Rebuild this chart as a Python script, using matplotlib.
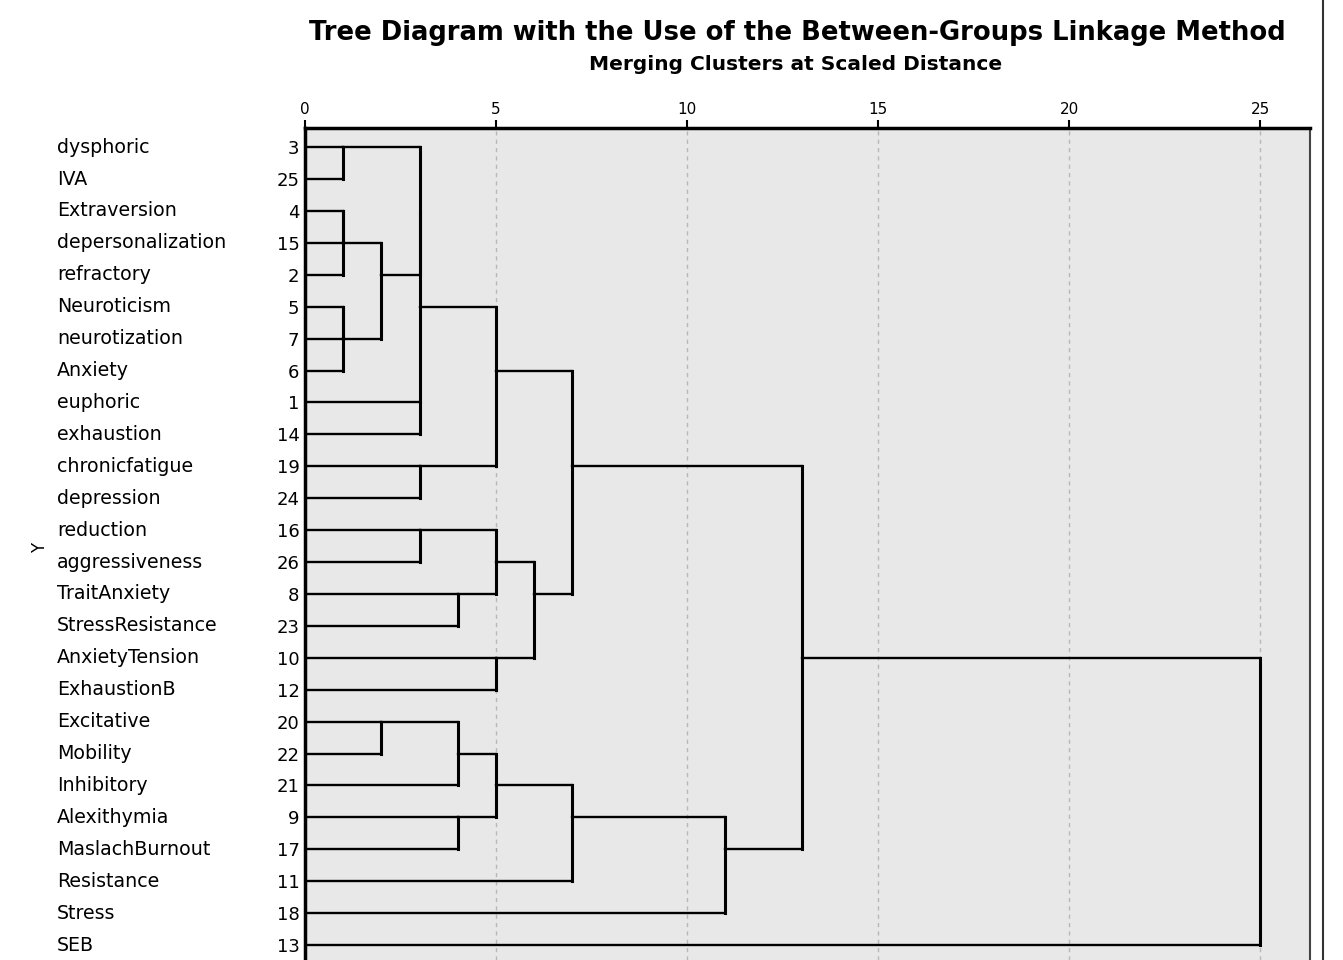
import matplotlib
matplotlib.use("Agg")
from matplotlib import pyplot as plt
from matplotlib.lines import Line2D
from matplotlib.transforms import blended_transform_factory

# leaves, top to bottom
names = ["dysphoric", "IVA", "Extraversion", "depersonalization", "refractory",
         "Neuroticism", "neurotization", "Anxiety", "euphoric", "exhaustion",
         "chronicfatigue", "depression", "reduction", "aggressiveness",
         "TraitAnxiety", "StressResistance", "AnxietyTension", "ExhaustionB",
         "Excitative", "Mobility", "Inhibitory", "Alexithymia", "MaslachBurnout",
         "Resistance", "Stress", "SEB"]
case_ids = [3, 25, 4, 15, 2, 5, 7, 6, 1, 14, 19, 24, 16, 26, 8, 23, 10, 12,
            20, 22, 21, 9, 17, 11, 18, 13]

# merges (child a, child b, rescaled distance); new clusters get ids 26, 27, ...
merges = [
    (0, 1, 1), (2, 3, 1), (27, 4, 1), (5, 6, 1), (29, 7, 1), (28, 30, 2),
    (8, 9, 3), (26, 31, 3), (33, 32, 3), (10, 11, 3), (34, 35, 5),
    (12, 13, 3), (14, 15, 4), (37, 38, 5), (16, 17, 5), (39, 40, 6),
    (36, 41, 7), (18, 19, 2), (43, 20, 4), (21, 22, 4), (44, 45, 5),
    (46, 23, 7), (47, 24, 11), (42, 48, 13), (49, 25, 25),
]

xticks = [0, 5, 10, 15, 20, 25]

W, H = 1343, 960
fig = plt.figure(figsize=(W / 100, H / 100), dpi=100)
ax = fig.add_axes([305 / W, 0, (1310 - 305) / W, (960 - 128) / H])
ax.set_facecolor("#e8e8e8")

n = len(names)
row = {i: i for i in range(n)}
dist = {i: 0 for i in range(n)}
for k, (a, b, d) in enumerate(merges):
    node = n + k
    for c in (a, b):
        ax.plot([dist[c], d], [row[c], row[c]], color="black", lw=1.7,
                solid_capstyle="projecting", zorder=3)
    ax.plot([d, d], [row[a], row[b]], color="black", lw=2.2,
            solid_capstyle="projecting", zorder=3)
    # SPSS keeps the merged cluster on the middle row (rounded down)
    row[node] = (row[a] + row[b]) // 2
    dist[node] = d

for x in xticks[1:]:
    ax.axvline(x, color="#b8b8b8", lw=1.0, ls=(0, (3, 3)), zorder=1)

ax.set_xlim(0, 26.3)
ax.set_ylim(25.47, -0.6)

ax.xaxis.tick_top()
ax.set_xticks(xticks)
ax.set_xticklabels([str(t) for t in xticks], fontsize=11)
ax.tick_params(axis="x", length=6, width=1.5, pad=2)

ax.set_yticks(range(n))
ax.set_yticklabels([str(c) for c in case_ids], fontsize=13)
ax.tick_params(axis="y", length=0, pad=4)

for s in ["left", "top"]:
    ax.spines[s].set_linewidth(2.5)
    ax.spines[s].set_color("black")
ax.spines["right"].set_linewidth(1.5)
ax.spines["right"].set_color("#444444")
ax.spines["bottom"].set_visible(False)

trans = blended_transform_factory(fig.transFigure, ax.transData)
for i, name in enumerate(names):
    ax.text(57 / W, i, name, transform=trans, ha="left", va="center",
            fontsize=13.7, clip_on=False)

fig.text(40 / W, 1 - 548 / H, "Y", rotation=90, ha="center", va="center",
         fontsize=12)

fig.text(797 / W, 1 - 33 / H,
         "Tree Diagram with the Use of the Between-Groups Linkage Method",
         ha="center", va="center", fontsize=18.6, fontweight="bold")
fig.text(796 / W, 1 - 64 / H, "Merging Clusters at Scaled Distance",
         ha="center", va="center", fontsize=14.5, fontweight="bold")

fig.add_artist(Line2D([1323 / W, 1323 / W], [0, 1], color="#333333", lw=1.5))

plt.savefig("out.png", dpi=100)
plt.close()
